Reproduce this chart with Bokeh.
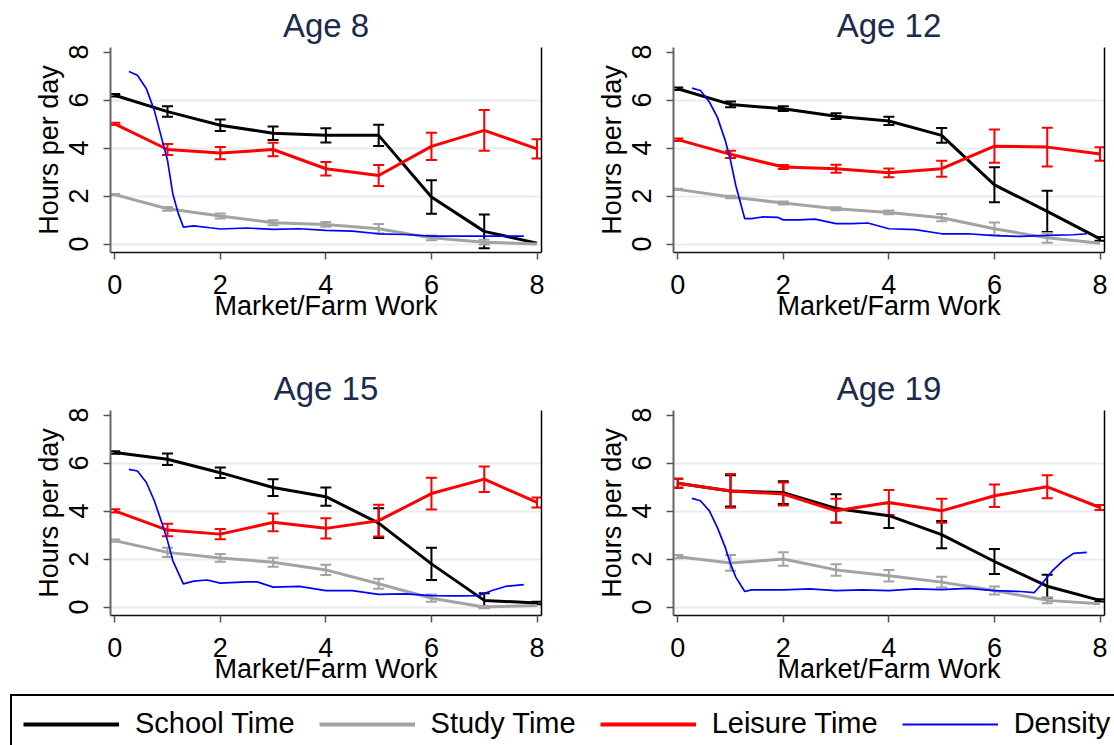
from bokeh.plotting import figure
from bokeh.models import (ColumnDataSource, Whisker, TeeHead, LinearAxis, FixedTicker,
                          Legend, LegendItem, Range1d)
from bokeh.layouts import column, row
from bokeh.embed import file_html
from bokeh.resources import INLINE

# ---- data: mean hours per day by hours of market/farm work, with 95% CI half-widths ----
work_hours = [0, 1, 2, 3, 4, 5, 6, 7, 8]

school_8 = [6.20, 5.52, 4.95, 4.62, 4.53, 4.53, 1.96, 0.53, 0.04]
school_8_ci = [0.05, 0.22, 0.24, 0.28, 0.30, 0.44, 0.70, 0.70, 0.00]
study_8 = [2.06, 1.47, 1.17, 0.89, 0.82, 0.64, 0.26, 0.08, 0.00]
study_8_ci = [0.03, 0.08, 0.10, 0.10, 0.10, 0.20, 0.10, 0.10, 0.00]
leisure_8 = [5.01, 3.94, 3.79, 3.94, 3.14, 2.86, 4.07, 4.74, 3.97]
leisure_8_ci = [0.05, 0.23, 0.26, 0.28, 0.28, 0.44, 0.57, 0.85, 0.40]
density_8_x = [0.27, 0.43, 0.60, 0.75, 0.90, 1.00, 1.10, 1.20, 1.30, 1.50, 1.80, 2.00, 2.50,
               3.00, 3.50, 4.00, 4.50, 5.00, 5.50, 6.00, 6.50, 7.00, 7.75]
density_8 = [7.19, 7.03, 6.47, 5.57, 4.32, 3.49, 2.10, 1.30, 0.71, 0.76, 0.68, 0.63, 0.67,
             0.61, 0.64, 0.57, 0.54, 0.43, 0.40, 0.33, 0.33, 0.33, 0.33]

school_12 = [6.47, 5.82, 5.64, 5.33, 5.13, 4.53, 2.47, 1.36, 0.22]
school_12_ci = [0.05, 0.12, 0.10, 0.12, 0.17, 0.31, 0.73, 0.86, 0.08]
study_12 = [2.28, 1.96, 1.71, 1.47, 1.32, 1.10, 0.64, 0.26, 0.04]
study_12_ci = [0.03, 0.05, 0.06, 0.06, 0.08, 0.15, 0.26, 0.20, 0.00]
leisure_12 = [4.35, 3.74, 3.21, 3.14, 2.97, 3.14, 4.08, 4.04, 3.75]
leisure_12_ci = [0.05, 0.15, 0.08, 0.17, 0.18, 0.33, 0.69, 0.81, 0.28]
density_12_x = [0.27, 0.43, 0.60, 0.75, 0.90, 1.00, 1.10, 1.27, 1.40, 1.60, 1.90, 2.00, 2.30,
                2.60, 3.00, 3.30, 3.60, 4.00, 4.50, 5.00, 5.50, 6.00, 6.50, 7.00, 7.50, 7.75]
density_12 = [6.50, 6.40, 5.92, 5.29, 4.32, 3.49, 2.44, 1.06, 1.06, 1.13, 1.11, 1.01, 1.01,
              1.04, 0.85, 0.85, 0.88, 0.64, 0.60, 0.43, 0.43, 0.35, 0.32, 0.36, 0.39, 0.43]

school_15 = [6.44, 6.16, 5.60, 4.98, 4.60, 3.50, 1.80, 0.28, 0.17]
school_15_ci = [0.05, 0.24, 0.22, 0.35, 0.38, 0.62, 0.67, 0.30, 0.05]
study_15 = [2.77, 2.28, 2.05, 1.87, 1.55, 0.97, 0.37, 0.00, 0.07]
study_15_ci = [0.05, 0.19, 0.16, 0.19, 0.21, 0.21, 0.15, 0.05, 0.00]
leisure_15 = [4.01, 3.21, 3.04, 3.53, 3.28, 3.60, 4.73, 5.33, 4.36]
leisure_15_ci = [0.07, 0.26, 0.21, 0.37, 0.42, 0.66, 0.66, 0.53, 0.21]
density_15_x = [0.27, 0.43, 0.60, 0.75, 0.90, 1.00, 1.10, 1.30, 1.50, 1.75, 2.00, 2.50, 2.70,
                3.00, 3.50, 4.00, 4.50, 5.00, 5.50, 6.00, 6.50, 6.90, 7.15, 7.40, 7.75]
density_15 = [5.74, 5.67, 5.19, 4.43, 3.46, 2.77, 1.94, 0.97, 1.08, 1.13, 1.00, 1.05, 1.05,
              0.83, 0.86, 0.69, 0.69, 0.53, 0.55, 0.48, 0.47, 0.48, 0.69, 0.86, 0.94]

school_19 = [5.16, 4.84, 4.77, 4.11, 3.81, 3.02, 1.90, 0.87, 0.28]
school_19_ci = [0.19, 0.65, 0.47, 0.59, 0.52, 0.57, 0.52, 0.48, 0.05]
study_19 = [2.10, 1.84, 2.00, 1.55, 1.31, 1.04, 0.69, 0.28, 0.14]
study_19_ci = [0.07, 0.33, 0.28, 0.24, 0.24, 0.22, 0.17, 0.12, 0.00]
leisure_19 = [5.16, 4.84, 4.71, 4.01, 4.36, 4.01, 4.64, 5.01, 4.15]
leisure_19_ci = [0.19, 0.70, 0.48, 0.50, 0.52, 0.50, 0.47, 0.48, 0.10]
density_19_x = [0.27, 0.43, 0.60, 0.75, 0.90, 1.00, 1.10, 1.27, 1.40, 2.00, 2.50, 3.00, 3.50,
                4.00, 4.50, 5.00, 5.50, 6.00, 6.50, 6.75, 6.90, 7.10, 7.30, 7.50, 7.75]
density_19 = [4.53, 4.43, 4.01, 3.32, 2.49, 1.80, 1.25, 0.65, 0.72, 0.72, 0.76, 0.69, 0.72,
              0.69, 0.76, 0.73, 0.78, 0.69, 0.65, 0.60, 0.97, 1.52, 1.94, 2.24, 2.28]

axis_ticks = [0, 2, 4, 6, 8]
series_names = ["School Time", "Study Time", "Leisure Time", "Density"]

# ---- styling ----
FONT = "Liberation Sans"
C_SCHOOL = "#000000"
C_STUDY = "#a3a3a3"
C_LEISURE = "#ff0000"
C_DENS = "#0000ff"
TITLE_COLOR = "#1c2b4d"
GRID_COLOR = "#e6eef1"


def add_series(p, y, ci, color):
    p.line(work_hours, y, line_color=color, line_width=3)
    xs = [x for x, c in zip(work_hours, ci) if c > 0]
    ys = [v for v, c in zip(y, ci) if c > 0]
    cs = [c for c in ci if c > 0]
    src = ColumnDataSource(dict(x=xs, up=[v + c for v, c in zip(ys, cs)],
                                lo=[v - c for v, c in zip(ys, cs)]))
    w = Whisker(source=src, base="x", upper="up", lower="lo",
                line_color=color, line_width=2,
                upper_head=TeeHead(size=11, line_color=color, line_width=2),
                lower_head=TeeHead(size=11, line_color=color, line_width=2))
    p.add_layout(w)


def make_panel(title, school, school_ci, study, study_ci, leisure, leisure_ci,
               dens_x, dens_y, b_left, b_right, height, b_bottom):
    p = figure(width=557, height=height, output_backend="svg", toolbar_location=None,
               x_range=Range1d(-0.08, 8.085), y_range=Range1d(-0.35, 8.19),
               min_border_left=b_left, min_border_right=b_right,
               min_border_top=47, min_border_bottom=b_bottom,
               background_fill_color="white", border_fill_color="white",
               outline_line_color=None)

    p.title.text = title
    p.title.align = "center"
    p.title.text_font = FONT
    p.title.text_font_size = "33px"
    p.title.text_font_style = "normal"
    p.title.text_color = TITLE_COLOR
    p.title.standoff = 7

    p.xgrid.visible = False
    p.ygrid.ticker = FixedTicker(ticks=[0, 2, 4, 6])
    p.ygrid.grid_line_color = GRID_COLOR
    p.ygrid.grid_line_width = 2

    for ax in (p.xaxis[0], p.yaxis[0]):
        ax.ticker = FixedTicker(ticks=axis_ticks)
        ax.minor_tick_line_color = None
        ax.major_tick_out = 7
        ax.major_tick_in = 0
        ax.major_label_text_font = FONT
        ax.major_label_text_font_size = "27px"
        ax.major_label_text_color = "black"
        ax.axis_label_text_font = FONT
        ax.axis_label_text_font_size = "27px"
        ax.axis_label_text_font_style = "normal"
        ax.axis_label_text_color = "black"

    p.xaxis.axis_label = "Market/Farm Work"
    p.xaxis.axis_line_color = "#111111"
    p.xaxis.axis_line_width = 1.5
    p.xaxis.major_tick_line_color = "#555555"
    p.xaxis.major_tick_line_width = 1.5
    p.xaxis.major_label_standoff = 15
    p.xaxis.axis_label_standoff = -6

    p.yaxis.axis_label = "Hours per day"
    p.yaxis.axis_line_color = "#666666"
    p.yaxis.axis_line_width = 2
    p.yaxis.major_tick_line_color = "#555555"
    p.yaxis.major_tick_line_width = 1.5
    p.yaxis.major_label_orientation = "vertical"
    p.yaxis.major_label_standoff = 15
    p.yaxis.axis_label_standoff = 3

    # closing line on the right side of the plot region
    right = LinearAxis(ticker=FixedTicker(ticks=[]), axis_line_color="black",
                       axis_line_width=1.5, major_tick_line_color=None,
                       minor_tick_line_color=None, major_label_text_font_size="0px")
    p.add_layout(right, "right")

    add_series(p, school, school_ci, C_SCHOOL)
    add_series(p, study, study_ci, C_STUDY)
    add_series(p, leisure, leisure_ci, C_LEISURE)
    p.line(dens_x, dens_y, line_color=C_DENS, line_width=1.7)
    return p


p8 = make_panel("Age 8", school_8, school_8_ci, study_8, study_8_ci, leisure_8, leisure_8_ci,
                density_8_x, density_8, 110, 16, 363, 111)
p12 = make_panel("Age 12", school_12, school_12_ci, study_12, study_12_ci, leisure_12,
                 leisure_12_ci, density_12_x, density_12, 116, 10, 363, 111)
p15 = make_panel("Age 15", school_15, school_15_ci, study_15, study_15_ci, leisure_15,
                 leisure_15_ci, density_15_x, density_15, 110, 16, 327, 75)
p19 = make_panel("Age 19", school_19, school_19_ci, study_19, study_19_ci, leisure_19,
                 leisure_19_ci, density_19_x, density_19, 116, 10, 327, 75)

# ---- shared legend along the bottom ----
leg = figure(width=1114, height=55, output_backend="svg", toolbar_location=None,
             x_range=Range1d(0, 1), y_range=Range1d(0, 1),
             x_axis_type=None, y_axis_type=None,
             min_border_left=10, min_border_right=0, min_border_top=4, min_border_bottom=0,
             outline_line_color=None, background_fill_color="white",
             border_fill_color="white")
leg.grid.visible = False
styles = [(C_SCHOOL, 4), (C_STUDY, 4), (C_LEISURE, 4), (C_DENS, 2)]
items = []
for name, (color, lw) in zip(series_names, styles):
    # key renderers sit outside the visible range; only their legend glyphs show
    r = leg.line([-5, -4], [-5, -4], line_color=color, line_width=lw)
    items.append(LegendItem(label=name, renderers=[r]))
legend = Legend(items=items, orientation="horizontal", location="top_left", margin=0,
                border_line_color="black", border_line_alpha=1, border_line_width=2,
                padding=11, spacing=24, glyph_width=96, glyph_height=20, label_standoff=16,
                label_text_font=FONT, label_text_font_size="29px", label_text_color="black",
                background_fill_color="white", background_fill_alpha=1)
leg.add_layout(legend, "center")

layout = column(row(p8, p12), row(p15, p19), leg)

with open("out.html", "w") as f:
    f.write(file_html(layout, INLINE))
